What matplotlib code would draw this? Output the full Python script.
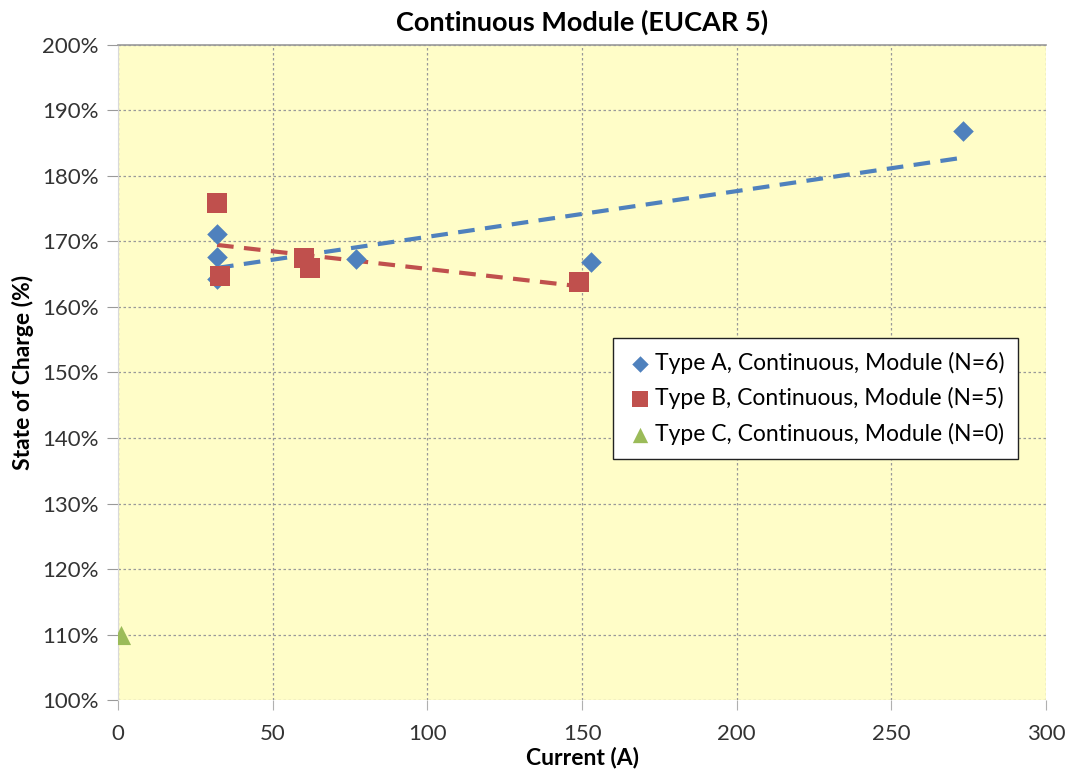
import numpy as np
import matplotlib
matplotlib.use("Agg")
import matplotlib.pyplot as plt
from matplotlib.ticker import FuncFormatter, MultipleLocator

plt.rcParams['font.family'] = ['Lato', 'DejaVu Sans']

title = "Continuous Module (EUCAR 5)"
xlabel = "Current (A)"
ylabel = "State of Charge (%)"

a_label = "Type A, Continuous, Module (N=6)"
a_x = [32, 32, 32, 77, 153, 273]
a_y = [171.2, 167.6, 164.3, 167.3, 166.9, 186.9]

b_label = "Type B, Continuous, Module (N=5)"
b_x = [32, 33, 60, 62, 149]
b_y = [175.9, 164.7, 167.5, 166.0, 163.8]

c_label = "Type C, Continuous, Module (N=0)"
c_x = [1]
c_y = [110]

blue = "#4F81BD"
red = "#C0504D"
green = "#9BBB59"

fig = plt.figure(figsize=(10.74, 7.81), dpi=100)
ax = fig.add_axes([0.1099, 0.1037, 0.8641, 0.8387])
ax.set_facecolor("#FFFDC8")

ax.scatter(a_x, a_y, marker="D", s=110, color=blue, label=a_label, zorder=3, linewidths=0)
ax.scatter(b_x, b_y, marker="s", s=190, color=red, label=b_label, zorder=3, linewidths=0)
ax.scatter(c_x, c_y, marker="^", s=190, color=green, label=c_label, zorder=3, linewidths=0)

for xs, ys, col in [(a_x, a_y, blue), (b_x, b_y, red)]:
    p = np.polyfit(xs, ys, 1)
    xx = np.array([min(xs), max(xs)])
    ax.plot(xx, np.polyval(p, xx), color=col, lw=3, ls=(0, (4, 2.5)), zorder=2)

ax.set_xlim(0, 300)
ax.set_ylim(100, 200)
ax.xaxis.set_major_locator(MultipleLocator(50))
ax.yaxis.set_major_locator(MultipleLocator(10))
ax.yaxis.set_major_formatter(FuncFormatter(lambda v, p: f"{v:.0f}%"))
ax.grid(True, color="#999999", ls=(0, (2, 2)), lw=0.9)
ax.set_axisbelow(True)

for s in ["right", "bottom"]:
    ax.spines[s].set_visible(False)
ax.spines["top"].set_color("#9A9A9A")
ax.spines["left"].set_color("#D9D9D9")
ax.spines["top"].set_linewidth(1.2)
ax.tick_params(axis="y", length=8, color="#9A9A9A", labelsize=16, labelcolor="#333333", pad=6)
ax.tick_params(axis="x", length=7, color="#B0B0B0", labelsize=16, labelcolor="#333333", pad=10)

ax.set_title(title, fontsize=19.5, fontweight="bold", pad=10)
ax.set_xlabel(xlabel, fontsize=16.5, fontweight="bold", labelpad=2)
ax.set_ylabel(ylabel, fontsize=16.5, fontweight="bold", labelpad=6)

leg = ax.legend(loc="upper left", bbox_to_anchor=(0.533, 0.553), fontsize=16.5,
                frameon=True, fancybox=False, edgecolor="#222222", framealpha=1,
                handletextpad=0.05, handlelength=1.2, labelspacing=0.6,
                borderpad=0.6, borderaxespad=0, scatterpoints=1, markerscale=0.8)
leg.get_frame().set_linewidth(1.0)

fig.savefig("out.png", dpi=100)
